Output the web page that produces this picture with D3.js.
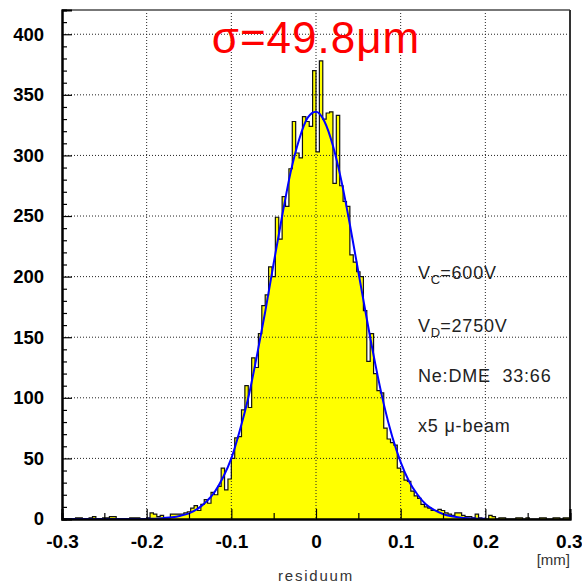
<!DOCTYPE html>
<html>
<head>
<meta charset="utf-8">
<script src="https://cdn.jsdelivr.net/npm/d3@7"></script>
<style>
  body { margin: 0; background: #fff; }
  svg { display: block; font-family: "Liberation Sans", Arial, sans-serif; }
</style>
</head>
<body>
<div id="chart"></div>
<script>
// residual histogram, 150 bins of 0.004 mm from -0.3 to 0.3
var binStart = -0.3;
var binWidth = 0.004;
var binCounts = [
  0, 0, 0, 0, 1, 1, 0, 0, 1, 2,
  0, 0, 1, 1, 2, 2, 0, 0, 0, 0,
  1, 1, 1, 0, 0, 1, 5, 4, 2, 3,
  1, 1, 4, 4, 4, 4, 5, 6, 9, 11,
  7, 12, 16, 13, 22, 20, 27, 42, 24, 33,
  50, 67, 68, 90, 110, 92, 133, 125, 153, 176,
  185, 208, 200, 249, 231, 266, 258, 289, 328, 302,
  298, 332, 328, 324, 370, 303, 378, 330, 335, 336,
  277, 333, 275, 262, 258, 218, 212, 204, 200, 172,
  130, 153, 120, 106, 104, 75, 66, 63, 61, 42,
  39, 32, 31, 23, 19, 17, 12, 10, 9, 7,
  7, 8, 7, 5, 4, 3, 5, 5, 3, 2,
  2, 1, 4, 1, 0, 0, 3, 2, 0, 1,
  1, 0, 0, 0, 1, 1, 0, 1, 0, 0,
  0, 1, 1, 0, 0, 1, 1, 0, 1, 1
];

// gaussian fit curve, read every 0.01 mm from -0.30 to 0.20
var fitX = d3.range(51).map(i => Math.round((-0.3 + i * 0.01) * 100) / 100);
var fitY = [
  0, 0, 0, 0, 0, 0, 0, 0, 0, 0,
  0.1, 0.3, 0.8, 1.4, 2.7, 4.7, 8.3, 14, 22, 34,
  50, 73, 100, 134, 171, 211, 250, 286, 313, 331,
  336, 328, 308, 279, 243, 204, 165, 128, 95, 68,
  47, 31, 20, 12, 7.3, 4.1, 2.2, 1.2, 0.6, 0.3,
  0.1
];

var xTicks = [-0.3, -0.2, -0.1, 0, 0.1, 0.2, 0.3];
var xTickLabels = ["-0.3", "-0.2", "-0.1", "0", "0.1", "0.2", "0.3"];
var xMinor = [-0.25, -0.15, -0.05, 0.05, 0.15, 0.25];
var yTicks = [0, 50, 100, 150, 200, 250, 300, 350, 400];
var yMinor = d3.range(0, 420, 10).filter(v => v % 50 !== 0);
var xGrid = [-0.2, -0.1, 0, 0.1, 0.2];
var yGrid = [50, 100, 150, 200, 250, 300, 350, 400];

var notes = [
  { main: "V", sub: "C", rest: "=600V" },
  { main: "V", sub: "D", rest: "=2750V" },
  { main: "Ne:DME  33:66", sub: "", rest: "" },
  { main: "x5 \u03bc-beam", sub: "", rest: "" }
];

var width = 582, height = 586;
var svg = d3.select("#chart").append("svg")
  .attr("width", width)
  .attr("height", height);

var x = d3.scaleLinear().domain([-0.3, 0.3]).range([62, 570]);
var y = d3.scaleLinear().domain([0, 420]).range([519, 10]);

// histogram points (left edge of every bin + closing right edge)
var pts = binCounts.map((c, i) => [binStart + i * binWidth, c]);
pts.push([binStart + binCounts.length * binWidth, binCounts[binCounts.length - 1]]);

var area = d3.area()
  .x(d => x(d[0]))
  .y0(y(0))
  .y1(d => y(d[1]))
  .curve(d3.curveStepAfter);

svg.append("path")
  .datum(pts)
  .attr("d", area)
  .attr("fill", "#ffff00");

// grid
svg.append("g").selectAll("line")
  .data(xGrid).enter().append("line")
    .attr("x1", d => x(d)).attr("x2", d => x(d))
    .attr("y1", y(420)).attr("y2", y(0))
    .attr("stroke", "#222").attr("stroke-width", 1)
    .attr("stroke-dasharray", "1,2");

svg.append("g").selectAll("line")
  .data(yGrid).enter().append("line")
    .attr("x1", x(-0.3)).attr("x2", x(0.3))
    .attr("y1", d => y(d)).attr("y2", d => y(d))
    .attr("stroke", "#222").attr("stroke-width", 1)
    .attr("stroke-dasharray", "1,2");

// histogram outline
var outline = d3.line()
  .x(d => x(d[0]))
  .y(d => y(d[1]))
  .curve(d3.curveStepAfter);

var outPts = [[binStart, 0]].concat(pts).concat([[0.3, 0]]);
svg.append("path")
  .datum(outPts)
  .attr("d", outline)
  .attr("fill", "none")
  .attr("stroke", "#111")
  .attr("stroke-width", 1.2);

// fit
var fitLine = d3.line()
  .x((d, i) => x(fitX[i]))
  .y(d => y(d))
  .curve(d3.curveMonotoneX);

svg.append("path")
  .datum(fitY)
  .attr("d", fitLine)
  .attr("fill", "none")
  .attr("stroke", "#0000ff")
  .attr("stroke-width", 2);

// frame: top and right
svg.append("line")
  .attr("x1", x(-0.3)).attr("x2", x(0.3))
  .attr("y1", y(420)).attr("y2", y(420))
  .attr("stroke", "#777").attr("stroke-width", 2);
svg.append("line")
  .attr("x1", x(0.3)).attr("x2", x(0.3))
  .attr("y1", y(420)).attr("y2", y(0))
  .attr("stroke", "#333").attr("stroke-width", 2);

// axes
var yAxis = svg.append("g")
  .attr("transform", "translate(" + x(-0.3) + ",0)")
  .call(d3.axisLeft(y).tickValues(yTicks).tickSize(-10).tickPadding(18));
var yAxisMinor = svg.append("g")
  .attr("transform", "translate(" + x(-0.3) + ",0)")
  .call(d3.axisLeft(y).tickValues(yMinor).tickSize(-5).tickFormat(""));

var xAxis = svg.append("g")
  .attr("transform", "translate(0," + y(0) + ")")
  .call(d3.axisBottom(x).tickValues(xTicks).tickSize(-10).tickPadding(16)
    .tickFormat((d, i) => xTickLabels[i]));
var xAxisMinor = svg.append("g")
  .attr("transform", "translate(0," + y(0) + ")")
  .call(d3.axisBottom(x).tickValues(xMinor).tickSize(-6).tickFormat(""));

[yAxis, yAxisMinor, xAxis, xAxisMinor].forEach(g => {
  g.select(".domain").attr("stroke", "#000").attr("stroke-width", 2);
  g.selectAll(".tick line").attr("stroke", "#000").attr("stroke-width", 1.2);
});

yAxis.selectAll("text")
  .style("font-family", "'Liberation Sans', Arial, sans-serif")
  .style("font-size", "18.5px")
  .style("font-weight", "bold")
  .attr("fill", "#000");

xAxis.selectAll("text")
  .style("font-family", "'Liberation Sans', Arial, sans-serif")
  .style("font-size", "19px")
  .style("font-weight", "bold")
  .attr("fill", "#000");

// last label sits against the right edge of the canvas
xAxis.selectAll(".tick text")
  .filter(d => d === 0.3)
  .attr("text-anchor", "end")
  .attr("dx", 12);

// axis titles
svg.append("text")
  .attr("x", 570).attr("y", 565)
  .attr("text-anchor", "end")
  .attr("font-size", 15)
  .attr("fill", "#333")
  .text("[mm]");

svg.append("text")
  .attr("x", 316).attr("y", 581)
  .attr("text-anchor", "middle")
  .attr("font-size", 15)
  .attr("letter-spacing", 1.8)
  .attr("fill", "#333")
  .text("residuum");

// sigma label
svg.append("text")
  .attr("x", 316).attr("y", 53)
  .attr("text-anchor", "middle")
  .attr("font-size", 44)
  .attr("letter-spacing", 1)
  .attr("fill", "#ff0000")
  .text("\u03c3=49.8\u03bcm");

// run conditions
var noteY = [279, 331.5, 381.5, 431.5];
var nt = svg.append("g").selectAll("text")
  .data(notes).enter().append("text")
    .attr("x", 418)
    .attr("y", (d, i) => noteY[i])
    .attr("font-size", 18)
    .attr("letter-spacing", 0.8)
    .attr("fill", "#222")
    .style("white-space", "pre");

nt.append("tspan").text(d => d.main);
nt.filter(d => d.sub).append("tspan")
  .attr("dy", 5).attr("font-size", 13).attr("letter-spacing", 0)
  .text(d => d.sub);
nt.filter(d => d.sub).append("tspan")
  .attr("dy", -5)
  .text(d => d.rest);
</script>
</body>
</html>
